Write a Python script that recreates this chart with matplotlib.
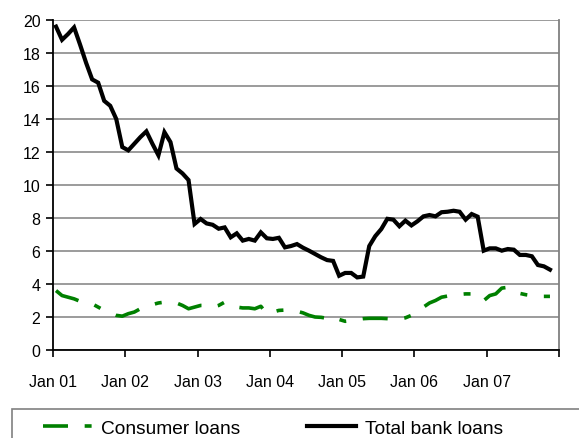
import numpy as np
import matplotlib
matplotlib.use('Agg')
from matplotlib import pyplot as plt
from matplotlib.patches import Rectangle

plt.rcParams['font.family'] = ['Liberation Sans', 'DejaVu Sans']
plt.rcParams['lines.scale_dashes'] = False

# monthly data, Jan 01 .. Dec 07 (last month missing)
total_loans = [19.6, 18.8, 19.15, 19.55, 18.5, 17.4, 16.4, 16.2, 15.1, 14.8, 14.0, 12.3,
               12.1, 12.5, 12.9, 13.25, 12.5, 11.8, 13.2, 12.6, 11.0, 10.7, 10.3, 7.64,
               7.94, 7.67, 7.59, 7.35, 7.43, 6.83, 7.07, 6.63, 6.73, 6.63, 7.13, 6.77,
               6.73, 6.8, 6.22, 6.3, 6.42, 6.2, 6.02, 5.82, 5.62, 5.45, 5.4, 4.5,
               4.67, 4.67, 4.4, 4.45, 6.3, 6.9, 7.33, 7.95, 7.9, 7.5, 7.84, 7.55,
               7.8, 8.1, 8.18, 8.1, 8.35, 8.38, 8.44, 8.38, 7.9, 8.24, 8.08, 6.02,
               6.16, 6.16, 6.02, 6.12, 6.08, 5.76, 5.76, 5.68, 5.15, 5.07, 4.87, np.nan]
consumer_loans = [3.6, 3.3, 3.2, 3.1, 2.95, 2.9, 2.8, 2.6, 2.4, 2.25, 2.1, 2.05,
                  2.2, 2.3, 2.5, 2.6, 2.75, 2.85, 2.9, 2.9, 2.85, 2.7, 2.5, 2.6,
                  2.7, 2.7, 2.6, 2.7, 2.9, 2.8, 2.6, 2.55, 2.55, 2.5, 2.65, 2.2,
                  2.3, 2.4, 2.42, 2.42, 2.35, 2.25, 2.1, 2.0, 1.98, 1.92, 2.04, 1.85,
                  1.74, 1.78, 1.85, 1.9, 1.92, 1.92, 1.92, 1.9, 1.88, 1.88, 1.95, 2.1,
                  2.35, 2.6, 2.85, 3.0, 3.2, 3.27, 3.32, 3.37, 3.4, 3.4, 3.33, 2.99,
                  3.3, 3.4, 3.75, 3.8, 3.55, 3.43, 3.35, 3.3, 3.25, 3.25, 3.25, np.nan]
year_labels = ['Jan 01', 'Jan 02', 'Jan 03', 'Jan 04', 'Jan 05', 'Jan 06', 'Jan 07']

fig = plt.figure(figsize=(5.79, 4.39), dpi=100)
ax = fig.add_axes([53/579, 1-351/439, (559-53)/579, (351-21)/439])

x = np.arange(len(total_loans))
ax.plot(x, consumer_loans, color='#008000', lw=2.6, dashes=(18, 12, 5, 12),
        solid_capstyle='butt', label='Consumer loans')
ax.plot(x, total_loans, color='black', lw=3.0, solid_joinstyle='miter',
        label='Total bank loans')

ax.set_xlim(-0.5, len(x) - 0.5)
ax.set_ylim(0, 20)
ax.set_yticks(np.arange(0, 21, 2))
ax.yaxis.grid(True, color='#808080', lw=1.1)
ax.set_axisbelow(True)
tick_pos = np.arange(-0.5, len(x), 12)
ax.set_xticks(tick_pos)
ax.set_xticklabels(year_labels + [''] * (len(tick_pos) - len(year_labels)))
ax.tick_params(axis='both', labelsize=11.5, length=5, width=1.2, color='black')
ax.tick_params(axis='x', pad=12)
ax.tick_params(axis='y', pad=4)
for side in ['left', 'bottom']:
    ax.spines[side].set_color('black')
    ax.spines[side].set_linewidth(1.3)
ax.spines['top'].set_visible(False)
ax.spines['right'].set_color('#808080')
ax.spines['right'].set_linewidth(1.3)

fig.patches.append(Rectangle((12/579, -0.1), 1.0, 1-410/439+0.1, transform=fig.transFigure,
                             fill=False, edgecolor='#808080', lw=1.2))
fig.legend(loc='center left', bbox_to_anchor=(43/579, 1-429/439), ncol=2, frameon=False,
           fontsize=13.8, handlelength=2.55, handletextpad=0.47, columnspacing=3.5,
           borderpad=0, borderaxespad=0)

fig.savefig('out.png', dpi=100)
